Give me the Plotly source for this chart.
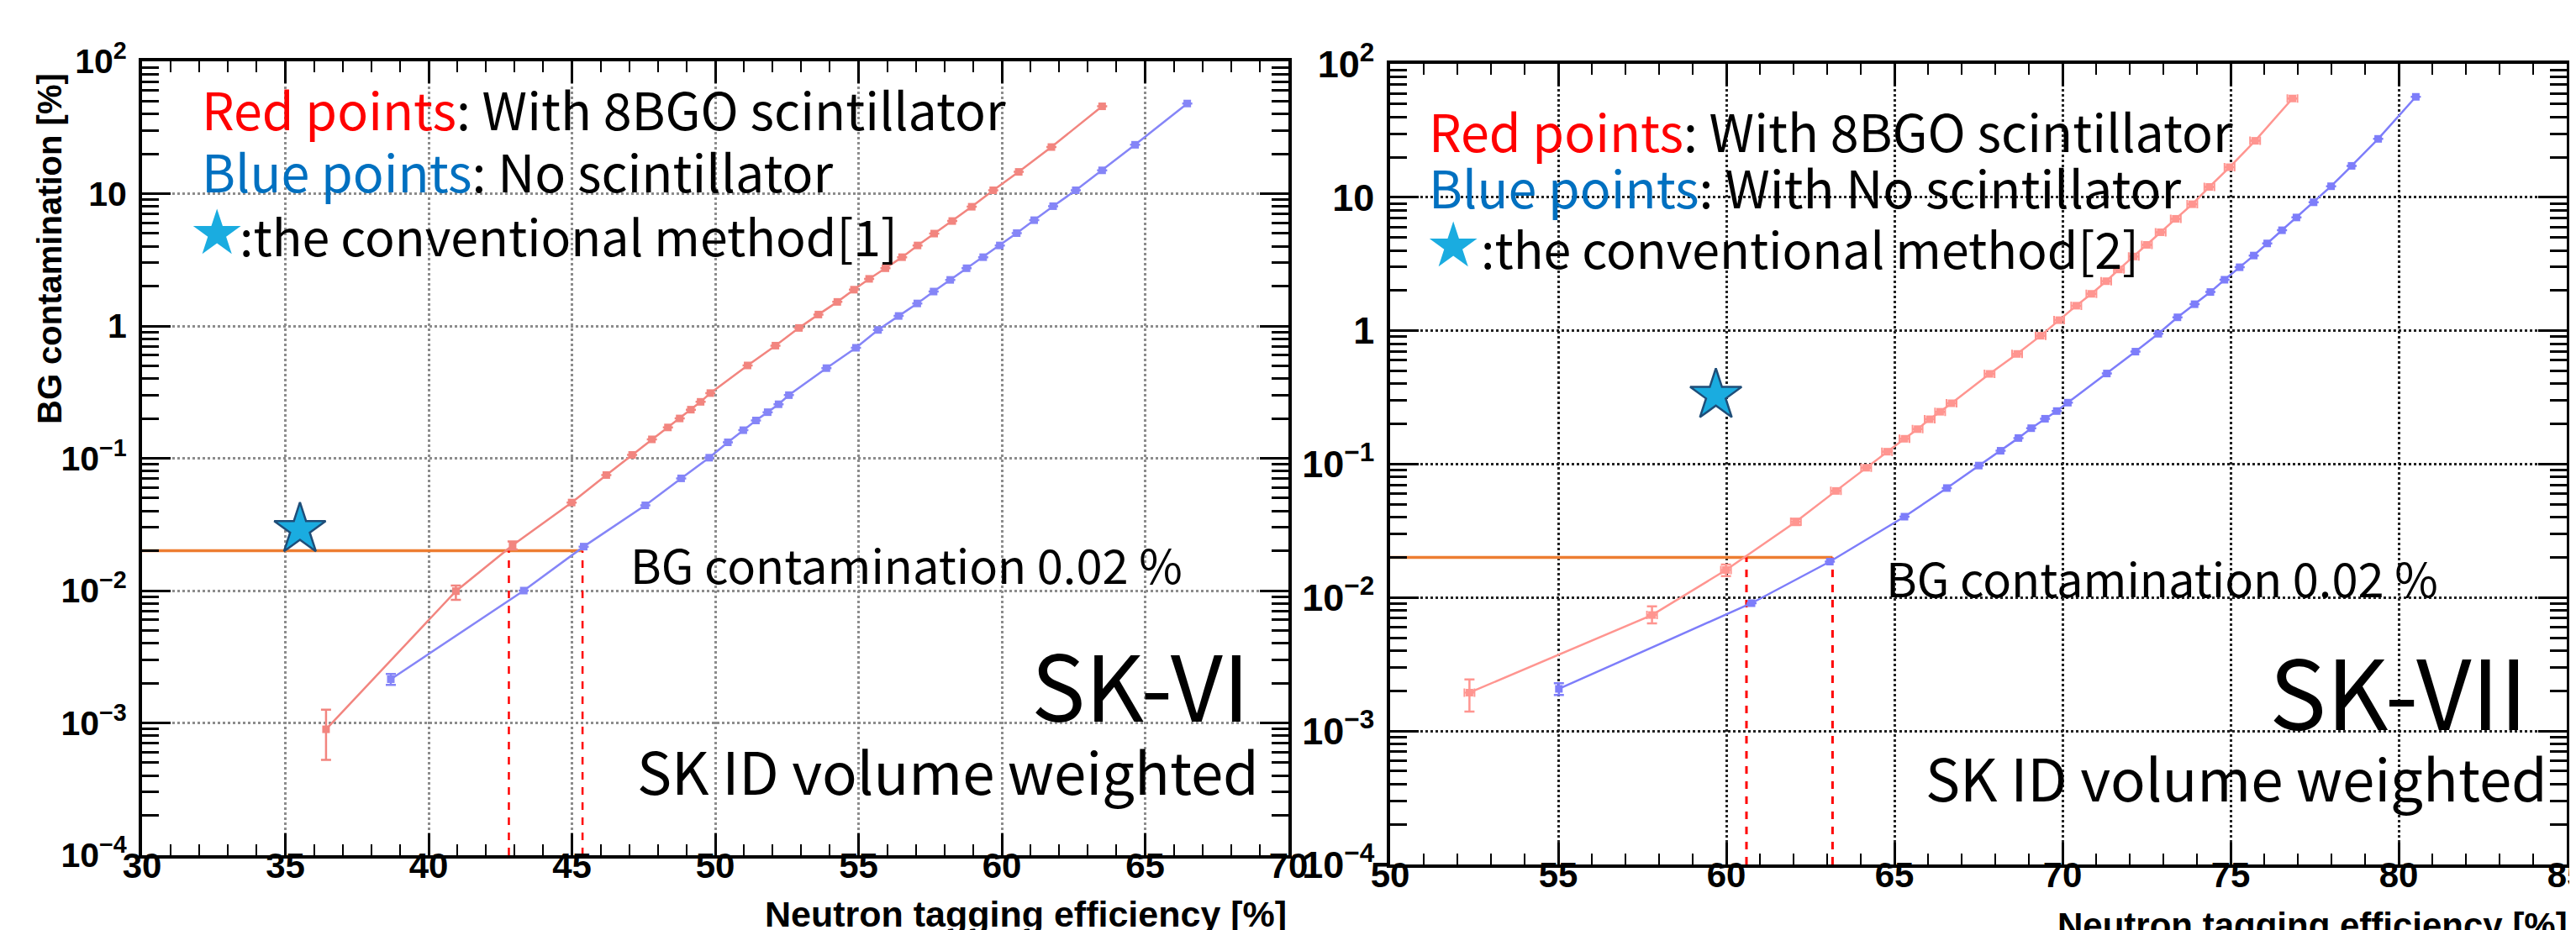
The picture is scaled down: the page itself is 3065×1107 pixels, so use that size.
import plotly.graph_objects as go

W, H = 3065, 1107

# ---------------- Data: SK-VI (left panel) ----------------
skvi_red_x = [36.42, 40.95, 42.93, 44.99, 46.20, 47.10, 47.79, 48.35, 48.76, 49.15, 49.49, 49.83,
              51.13, 52.10, 52.92, 53.60, 54.26, 54.84, 55.37, 55.94, 56.52, 57.06, 57.64, 58.27,
              58.95, 59.70, 60.59, 61.73, 63.50]
skvi_red_y = [0.000895, 0.0099, 0.0220, 0.0463, 0.0747, 0.106, 0.139, 0.171, 0.200, 0.233, 0.267, 0.311,
              0.503, 0.71, 0.966, 1.22, 1.52, 1.88, 2.27, 2.73, 3.31, 4.06, 4.99, 6.21,
              7.96, 10.6, 14.6, 22.5, 45.7]
skvi_red_err_up = [0.000365, 0.0010, 0.0015] + [0] * 26
skvi_red_err_dn = [0.00037, 0.0014, 0.0015] + [0] * 26

skvi_blue_x = [38.68, 43.32, 45.41, 47.56, 48.81, 49.79, 50.44, 50.98, 51.42, 51.83, 52.21, 52.57,
               53.88, 54.91, 55.68, 56.40, 57.05, 57.62, 58.20, 58.77, 59.35, 59.93, 60.52, 61.13,
               61.79, 62.58, 63.50, 64.65, 66.47]
skvi_blue_y = [0.00214, 0.0100, 0.0215, 0.0441, 0.0705, 0.101, 0.132, 0.163, 0.193, 0.223, 0.256, 0.30,
               0.48, 0.684, 0.933, 1.19, 1.48, 1.82, 2.23, 2.73, 3.31, 4.06, 5.03, 6.3,
               8.04, 10.6, 15.0, 23.4, 48.0]
skvi_blue_err = [0.0002] + [0] * 28

skvi_star_x = [35.51]
skvi_star_y = [0.029]
skvi_cross_x = [42.80, 45.37]   # efficiency at BG = 0.02 %

# ---------------- Data: SK-VII (right panel) ----------------
skvii_red_x = [52.36, 57.79, 59.99, 62.07, 63.26, 64.16, 64.78, 65.30, 65.69, 66.05, 66.36, 66.70,
               67.83, 68.65, 69.35, 69.90, 70.41, 70.86, 71.30, 71.68, 72.12, 72.51, 72.92, 73.37,
               73.86, 74.37, 74.97, 75.73, 76.84]
skvii_red_y = [0.00194, 0.0074, 0.0161, 0.037, 0.063, 0.094, 0.124, 0.155, 0.183, 0.217, 0.247, 0.286,
               0.475, 0.670, 0.917, 1.20, 1.54, 1.89, 2.35, 2.88, 3.60, 4.40, 5.47, 6.9,
               8.87, 11.96, 16.8, 26.5, 55.0]
skvii_red_err_up = [0.0005, 0.0012, 0.0016, 0.002] + [0] * 25
skvii_red_err_dn = [0.00054, 0.0010, 0.0016, 0.002] + [0] * 25

skvii_blue_x = [55.02, 60.75, 63.08, 65.30, 66.56, 67.51, 68.16, 68.69, 69.07, 69.48, 69.83, 70.16,
                71.32, 72.17, 72.85, 73.42, 73.93, 74.40, 74.82, 75.27, 75.69, 76.09, 76.53, 76.96,
                77.47, 77.99, 78.60, 79.39, 80.51]
skvii_blue_y = [0.00207, 0.00908, 0.0186, 0.0404, 0.0662, 0.0976, 0.126, 0.157, 0.186, 0.219, 0.250, 0.289,
                0.478, 0.697, 0.949, 1.26, 1.58, 1.95, 2.41, 2.99, 3.66, 4.51, 5.66, 7.06,
                9.17, 12.1, 17.2, 27.4, 56.6]
skvii_blue_err = [0.00021] + [0] * 28

skvii_star_x = [59.69]
skvii_star_y = [0.328]
skvii_cross_x = [60.60, 63.16]

bg_threshold = 0.02
y_bottom = 1e-4

ytick_vals = [1e-4, 1e-3, 1e-2, 1e-1, 1, 10, 100]
ytick_text = ["10<sup>\u22124</sup>", "10<sup>\u22123</sup>", "10<sup>\u22122</sup>",
              "10<sup>\u22121</sup>", "1", "10", "10<sup>2</sup>"]
left_xticks = [30, 35, 40, 45, 50, 55, 60, 65, 70]
right_xticks = [50, 55, 60, 65, 70, 75, 80, 85]

# ---------------- colours ----------------
RED_PT = "#F2857F"
BLUE_PT = "#8585F7"
RED_PT_R = "#FF9590"
BLUE_PT_R = "#7D7DFA"
ORANGE = "#ED7D31"
STAR_FILL = "#1AACE0"
STAR_LINE = "#1F4E79"
TXT_RED = "#FF0000"
TXT_BLUE = "#0070C0"

def px(x):
    return x / W

def py(y):
    return 1 - y / H

fig = go.Figure()

def add_series(xs, ys, color, xa, ya, eup=None, edn=None, ex=None):
    fig.add_trace(go.Scatter(
        x=xs, y=ys, mode="lines+markers", xaxis=xa, yaxis=ya,
        line=dict(color=color, width=2.5),
        marker=dict(symbol="square", size=9, color=color),
        error_y=dict(type="data", array=eup, arrayminus=edn, color=color, thickness=2.5, width=6,
                     visible=eup is not None),
        error_x=dict(type="constant", value=ex if ex else 0, color=color, thickness=2, width=5,
                     visible=ex is not None),
        showlegend=False, hoverinfo="x+y"))

# threshold guide lines (left)
fig.add_trace(go.Scatter(x=[30, skvi_cross_x[1]], y=[bg_threshold, bg_threshold], mode="lines",
                         line=dict(color=ORANGE, width=3.5), xaxis="x", yaxis="y", showlegend=False))
for cx in skvi_cross_x:
    fig.add_trace(go.Scatter(x=[cx, cx], y=[y_bottom, bg_threshold], mode="lines",
                             line=dict(color="#FF0000", width=2.5, dash="dash"),
                             xaxis="x", yaxis="y", showlegend=False))
# threshold guide lines (right)
fig.add_trace(go.Scatter(x=[50, skvii_cross_x[1]], y=[bg_threshold, bg_threshold], mode="lines",
                         line=dict(color=ORANGE, width=3.5), xaxis="x2", yaxis="y2", showlegend=False))
for cx in skvii_cross_x:
    fig.add_trace(go.Scatter(x=[cx, cx], y=[y_bottom, bg_threshold], mode="lines",
                             line=dict(color="#FF0000", width=3, dash="dash"),
                             xaxis="x2", yaxis="y2", showlegend=False))

add_series(skvi_red_x, skvi_red_y, RED_PT, "x", "y", skvi_red_err_up, skvi_red_err_dn)
add_series(skvi_blue_x, skvi_blue_y, BLUE_PT, "x", "y", skvi_blue_err, skvi_blue_err)
add_series(skvii_red_x, skvii_red_y, RED_PT_R, "x2", "y2", skvii_red_err_up, skvii_red_err_dn, ex=0.15)
add_series(skvii_blue_x, skvii_blue_y, BLUE_PT_R, "x2", "y2", skvii_blue_err, skvii_blue_err)

for sx, sy, xa, ya in [(skvi_star_x, skvi_star_y, "x", "y"), (skvii_star_x, skvii_star_y, "x2", "y2")]:
    fig.add_trace(go.Scatter(x=sx, y=sy, mode="markers", xaxis=xa, yaxis=ya,
                             marker=dict(symbol="star", size=46, color=STAR_FILL,
                                         line=dict(color=STAR_LINE, width=2.5)),
                             showlegend=False))

AXF = "Liberation Sans, Arial, sans-serif"
minor_y = [m * 10 ** e for e in range(-4, 2) for m in range(2, 10)]

def xaxis_cfg(dom, rng, ticks, anchor, gridcolor, lw, fs):
    return dict(domain=dom, range=rng, anchor=anchor, tickvals=ticks, automargin=False,
                ticks="inside", ticklen=26, tickwidth=2.5, tickcolor="black",
                mirror="allticks", showline=True, linecolor="black", linewidth=lw,
                showgrid=True, gridcolor=gridcolor, griddash="dot", gridwidth=2.5,
                minor=dict(dtick=1, ticks="inside", ticklen=13, tickwidth=2, tickcolor="black", showgrid=False),
                tickfont=dict(family=AXF, size=fs, color="black", weight="bold"),
                zeroline=False, ticklabelstandoff=-27, ticklabeloverflow="allow")

def yaxis_cfg(dom, anchor, gridcolor, lw, fs):
    return dict(domain=dom, type="log", range=[-4, 2], anchor=anchor, automargin=False,
                tickvals=ytick_vals, ticktext=ytick_text,
                ticks="inside", ticklen=34, tickwidth=2.5, tickcolor="black",
                mirror="allticks", showline=True, linecolor="black", linewidth=lw,
                showgrid=True, gridcolor=gridcolor, griddash="dot", gridwidth=2.5,
                minor=dict(tickvals=minor_y, ticks="inside", ticklen=20, tickwidth=2.5,
                           tickcolor="black", showgrid=False),
                tickfont=dict(family=AXF, size=fs, color="black", weight="bold"),
                zeroline=False, ticklabelstandoff=6)

fig.update_layout(
    width=W, height=H,
    margin=dict(l=0, r=0, t=0, b=0, autoexpand=False),
    paper_bgcolor="white", plot_bgcolor="white",
    showlegend=False,
    xaxis=xaxis_cfg([px(161), px(1525)], [30, 70], left_xticks, "y", "#8C8C8C", 4, 42),
    yaxis=yaxis_cfg([py(1010), py(65)], "x", "#8C8C8C", 4, 41),
    xaxis2=xaxis_cfg([px(1646), px(3046)], [50, 85], right_xticks, "y2", "#222222", 3.5, 42),
    yaxis2=yaxis_cfg([py(1021), py(68)], "x2", "#222222", 3.5, 45),
)

TXT = "Noto Sans CJK JP, Noto Sans, sans-serif"
ann = []

def add_text(x, y, text, size, xanchor="left", family=TXT, color="black", weight="normal", angle=0):
    ann.append(dict(x=px(x), y=py(y), xref="paper", yref="paper", text=text, showarrow=False,
                    xanchor=xanchor, yanchor="middle", textangle=angle, borderpad=0,
                    font=dict(family=family, size=size, color=color, weight=weight)))

# left legend texts
add_text(231, 121, f"<span style='color:{TXT_RED}'>Red points</span>: With 8BGO scintillator", 61)
add_text(231, 195, f"<span style='color:{TXT_BLUE}'>Blue points</span>: No scintillator", 61)
add_text(250, 268, "\u2605", 74, xanchor="center", family="DejaVu Sans", color=STAR_FILL)
add_text(276, 271, ":the conventional method[1]", 59)
# right legend texts
add_text(1691, 146, f"<span style='color:{TXT_RED}'>Red points</span>: With 8BGO scintillator", 61)
add_text(1691, 214, f"<span style='color:{TXT_BLUE}'>Blue points</span>: With No scintillator", 61)
add_text(1721, 283, "\u2605", 74, xanchor="center", family="DejaVu Sans", color=STAR_FILL)
add_text(1753, 286, ":the conventional method[2]", 59)

add_text(741, 662, "BG contamination 0.02 %", 56)
add_text(2235, 678, "BG contamination 0.02 %", 56)
add_text(1480, 804, "SK-VI", 108, xanchor="right")
add_text(3000, 811, "SK-VII", 114, xanchor="right")
add_text(1491, 908, "SK ID volume weighted", 69, xanchor="right")
add_text(3024, 916, "SK ID volume weighted", 69, xanchor="right")

add_text(1524, 1080, "Neutron tagging efficiency [%]", 43, xanchor="right", family=AXF, weight="bold")
add_text(3048, 1093, "Neutron tagging efficiency [%]", 42, xanchor="right", family=AXF, weight="bold")
ann.append(dict(x=px(51), y=py(288), xref="paper", yref="paper", text="BG contamination [%]",
                showarrow=False, textangle=-90, xanchor="center", yanchor="middle",
                font=dict(family=AXF, size=40, color="black", weight="bold")))

fig.update_layout(annotations=ann)
fig.write_html("out.html")
